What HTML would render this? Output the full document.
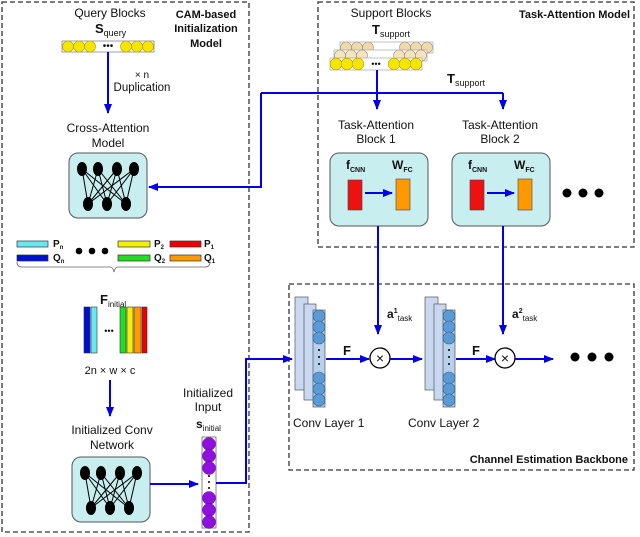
<!DOCTYPE html>
<html><head><meta charset="utf-8"><style>
html,body{margin:0;padding:0;background:#fff;width:640px;height:537px;overflow:hidden}
svg{display:block}
text{font-family:"Liberation Sans",sans-serif;fill:#111}
</style></head><body>
<svg width="640" height="537" viewBox="0 0 640 537" xmlns="http://www.w3.org/2000/svg">
<defs>
<marker id="ah" markerWidth="10" markerHeight="8" refX="9" refY="4" orient="auto" markerUnits="userSpaceOnUse"><path d="M0,0 L10,4 L0,8 z" fill="#0000ee"/></marker>
<g id="nn">
<g stroke="#000" stroke-width="1">
<line x1="13" y1="16" x2="19" y2="51"/><line x1="13" y1="16" x2="38" y2="51"/><line x1="13" y1="16" x2="57" y2="51"/>
<line x1="29" y1="16" x2="19" y2="51"/><line x1="29" y1="16" x2="38" y2="51"/><line x1="29" y1="16" x2="57" y2="51"/>
<line x1="48" y1="16" x2="19" y2="51"/><line x1="48" y1="16" x2="38" y2="51"/><line x1="48" y1="16" x2="57" y2="51"/>
<line x1="65" y1="16" x2="19" y2="51"/><line x1="65" y1="16" x2="38" y2="51"/><line x1="65" y1="16" x2="57" y2="51"/>
</g>
<ellipse cx="13" cy="16" rx="5" ry="7"/><ellipse cx="29" cy="16" rx="5" ry="7"/><ellipse cx="48" cy="16" rx="5" ry="7"/><ellipse cx="65" cy="16" rx="5" ry="7"/>
<ellipse cx="19" cy="51" rx="5" ry="7"/><ellipse cx="38" cy="51" rx="5" ry="7"/><ellipse cx="57" cy="51" rx="5" ry="7"/>
</g>
</defs>
<g fill="none" stroke="#333" stroke-width="1.3" stroke-dasharray="5,3">
<rect x="2" y="2" width="247" height="530"/>
<rect x="318" y="2" width="316" height="245"/>
<rect x="289" y="284" width="345" height="186"/>
</g>

<!-- Left column -->
<text x="110" y="17" font-size="12" text-anchor="middle">Query Blocks</text>
<text x="95" y="33" font-size="13" font-weight="bold">S<tspan font-size="9" dy="3" font-weight="normal">query</tspan></text>
<text x="206" y="18" font-size="11" font-weight="bold" text-anchor="middle">CAM-based</text>
<text x="206" y="32" font-size="11" font-weight="bold" text-anchor="middle">Initialization</text>
<text x="206" y="47" font-size="11" font-weight="bold" text-anchor="middle">Model</text>
<rect x="62" y="41" width="92" height="11" fill="#fff" stroke="#888" stroke-width="0.8"/>
<g fill="#f5e600" stroke="#b8a000" stroke-width="0.6">
<circle cx="68" cy="46.5" r="5.5"/><circle cx="79" cy="46.5" r="5.5"/><circle cx="90" cy="46.5" r="5.5"/>
<circle cx="126" cy="46.5" r="5.5"/><circle cx="137" cy="46.5" r="5.5"/><circle cx="148" cy="46.5" r="5.5"/></g>
<text x="108" y="49" font-size="10" text-anchor="middle">•••</text>
<line x1="108" y1="52" x2="108" y2="113" stroke="#0000ee" stroke-width="2" marker-end="url(#ah)"/>
<text x="142" y="78" font-size="10" text-anchor="middle">× n</text>
<text x="142" y="91" font-size="11.5" text-anchor="middle">Duplication</text>
<text x="108" y="132" font-size="12" text-anchor="middle">Cross-Attention</text>
<text x="108" y="147" font-size="12" text-anchor="middle">Model</text>
<rect x="69" y="153" width="78" height="65" rx="9" fill="#c8eef0" stroke="#555"/>
<use href="#nn" x="69" y="153"/>
<polyline points="261,93 261,187 149,187" fill="none" stroke="#0000ee" stroke-width="2" marker-end="url(#ah)"/>
<line x1="261" y1="93" x2="503" y2="93" stroke="#0000ee" stroke-width="2"/>

<g stroke="#333" stroke-width="0.7">
<rect x="17" y="241" width="31" height="6" fill="#66e8f0"/>
<rect x="17" y="255" width="31" height="6" fill="#0010d0"/>
<rect x="118" y="241" width="32" height="6" fill="#f5f000"/>
<rect x="170" y="241" width="31" height="6" fill="#ee0000"/>
<rect x="118" y="255" width="32" height="6" fill="#22dd22"/>
<rect x="170" y="255" width="31" height="6" fill="#ff9900"/>
</g>
<text x="53" y="247" font-size="10" font-weight="bold">P<tspan font-size="6" dy="2">n</tspan></text>
<text x="53" y="261" font-size="10" font-weight="bold">Q<tspan font-size="6" dy="2">n</tspan></text>
<text x="154" y="247" font-size="10" font-weight="bold">P<tspan font-size="6" dy="2">2</tspan></text>
<text x="154" y="261" font-size="10" font-weight="bold">Q<tspan font-size="6" dy="2">2</tspan></text>
<text x="204" y="247" font-size="10" font-weight="bold">P<tspan font-size="6" dy="2">1</tspan></text>
<text x="204" y="261" font-size="10" font-weight="bold">Q<tspan font-size="6" dy="2">1</tspan></text>
<circle cx="79" cy="251" r="3.3"/><circle cx="92" cy="251" r="3.3"/><circle cx="105" cy="251" r="3.3"/>
<path d="M17,262 Q17,267 22,267 L110,267 Q113,267 114,272 Q115,267 118,267 L205,267 Q210,267 210,262" fill="none" stroke="#666" stroke-width="0.8"/>

<text x="100" y="304" font-size="13" font-weight="bold">F<tspan font-size="8" dy="3" font-weight="normal">initial</tspan></text>
<g stroke="#333" stroke-width="0.6">
<rect x="84" y="307" width="6" height="46" fill="#0010d0"/>
<rect x="91" y="307" width="6" height="46" fill="#66e8f0"/>
<rect x="120" y="307" width="6" height="46" fill="#22dd22"/>
<rect x="127" y="307" width="6" height="46" fill="#f5f000"/>
<rect x="134" y="307" width="7" height="46" fill="#ff9900"/>
<rect x="142" y="307" width="5" height="46" fill="#ee0000"/>
</g>
<text x="109" y="334" font-size="9" text-anchor="middle">•••</text>
<text x="110" y="374" font-size="11" text-anchor="middle">2n × w × c</text>
<line x1="110" y1="380" x2="110" y2="416" stroke="#0000ee" stroke-width="2" marker-end="url(#ah)"/>
<text x="112" y="434" font-size="12" text-anchor="middle">Initialized Conv</text>
<text x="112" y="449" font-size="12" text-anchor="middle">Network</text>
<rect x="72" y="457" width="78" height="65" rx="9" fill="#c8eef0" stroke="#555"/>
<use href="#nn" x="72" y="457"/>
<line x1="150" y1="484" x2="198" y2="484" stroke="#0000ee" stroke-width="2" marker-end="url(#ah)"/>
<text x="208" y="397" font-size="12" text-anchor="middle">Initialized</text>
<text x="208" y="411" font-size="12" text-anchor="middle">Input</text>
<text x="196" y="428" font-size="12" font-weight="bold">s<tspan font-size="8" dy="3" font-weight="normal">initial</tspan></text>
<rect x="202" y="437" width="14" height="91" fill="#fff" stroke="#555" stroke-width="0.7"/>
<g fill="#9010e0" stroke="#6000a0" stroke-width="0.5">
<circle cx="209" cy="444" r="6.5"/><circle cx="209" cy="456" r="6.5"/><circle cx="209" cy="468" r="6.5"/>
<circle cx="209" cy="498" r="6.5"/><circle cx="209" cy="510" r="6.5"/><circle cx="209" cy="522" r="6.5"/></g>
<circle cx="209" cy="476" r="1"/><circle cx="209" cy="482" r="1"/><circle cx="209" cy="488" r="1"/>
<polyline points="216,483 246,483 246,359 292,359" fill="none" stroke="#0000ee" stroke-width="2" marker-end="url(#ah)"/>

<!-- Task attention -->
<text x="391" y="17" font-size="12" text-anchor="middle">Support Blocks</text>
<text x="372" y="34" font-size="13" font-weight="bold">T<tspan font-size="9" dy="3" font-weight="normal">support</tspan></text>
<text x="630" y="18" font-size="11" font-weight="bold" text-anchor="end">Task-Attention Model</text>
<g stroke="#999" stroke-width="0.6">
<rect x="340" y="42" width="93" height="11" fill="#fff"/>
<g fill="#f2d9a8"><circle cx="346" cy="47.5" r="5.5"/><circle cx="357" cy="47.5" r="5.5"/><circle cx="368" cy="47.5" r="5.5"/><circle cx="405" cy="47.5" r="5.5"/><circle cx="416" cy="47.5" r="5.5"/><circle cx="427" cy="47.5" r="5.5"/></g>
<rect x="334" y="50" width="93" height="11" fill="#fff"/>
<g fill="#f7e3bc"><circle cx="340" cy="55.5" r="5.5"/><circle cx="351" cy="55.5" r="5.5"/><circle cx="362" cy="55.5" r="5.5"/><circle cx="399" cy="55.5" r="5.5"/><circle cx="410" cy="55.5" r="5.5"/><circle cx="421" cy="55.5" r="5.5"/></g>
<rect x="330" y="58" width="92" height="12" fill="#fff"/>
<g fill="#f5e600" stroke="#b8a000"><circle cx="336" cy="64" r="5.8"/><circle cx="347" cy="64" r="5.8"/><circle cx="358" cy="64" r="5.8"/><circle cx="394" cy="64" r="5.8"/><circle cx="405" cy="64" r="5.8"/><circle cx="416" cy="64" r="5.8"/></g>
</g>
<text x="376" y="67" font-size="9" text-anchor="middle">•••</text>
<line x1="377" y1="70" x2="377" y2="109" stroke="#0000ee" stroke-width="2" marker-end="url(#ah)"/>
<line x1="503" y1="93" x2="503" y2="109" stroke="#0000ee" stroke-width="2" marker-end="url(#ah)"/>
<text x="447" y="83" font-size="13" font-weight="bold">T<tspan font-size="9" dy="3" font-weight="normal">support</tspan></text>
<text x="376" y="129" font-size="12" text-anchor="middle">Task-Attention</text>
<text x="376" y="143" font-size="12" text-anchor="middle">Block 1</text>
<text x="500" y="129" font-size="12" text-anchor="middle">Task-Attention</text>
<text x="500" y="143" font-size="12" text-anchor="middle">Block 2</text>
<g>
<rect x="330" y="153" width="98" height="73" rx="9" fill="#c8eef0" stroke="#555"/>
<text x="346" y="169" font-size="12" font-weight="bold">f<tspan font-size="7" dy="3">CNN</tspan></text>
<text x="392" y="169" font-size="12" font-weight="bold">W<tspan font-size="7" dy="3">FC</tspan></text>
<rect x="348" y="180" width="14" height="30" fill="#ee1111" stroke="#444" stroke-width="0.6"/>
<rect x="396" y="179" width="14" height="31" fill="#ff9900" stroke="#444" stroke-width="0.6"/>
<line x1="365" y1="193" x2="392" y2="193" stroke="#0000ee" stroke-width="2" marker-end="url(#ah)"/>
</g>
<g transform="translate(122,0)">
<rect x="330" y="153" width="98" height="73" rx="9" fill="#c8eef0" stroke="#555"/>
<text x="346" y="169" font-size="12" font-weight="bold">f<tspan font-size="7" dy="3">CNN</tspan></text>
<text x="392" y="169" font-size="12" font-weight="bold">W<tspan font-size="7" dy="3">FC</tspan></text>
<rect x="348" y="180" width="14" height="30" fill="#ee1111" stroke="#444" stroke-width="0.6"/>
<rect x="396" y="179" width="14" height="31" fill="#ff9900" stroke="#444" stroke-width="0.6"/>
<line x1="365" y1="193" x2="392" y2="193" stroke="#0000ee" stroke-width="2" marker-end="url(#ah)"/>
</g>
<circle cx="567" cy="193" r="4.5"/><circle cx="583" cy="193" r="4.5"/><circle cx="599" cy="193" r="4.5"/>

<!-- Backbone -->
<line x1="378" y1="226" x2="378" y2="334" stroke="#0000ee" stroke-width="2" marker-end="url(#ah)"/>
<line x1="503" y1="226" x2="503" y2="334" stroke="#0000ee" stroke-width="2" marker-end="url(#ah)"/>
<text x="387" y="318" font-size="12" font-weight="bold">a<tspan font-size="7" dy="-5">1</tspan><tspan font-size="8" dy="8" font-weight="normal">task</tspan></text>
<text x="512" y="318" font-size="12" font-weight="bold">a<tspan font-size="7" dy="-5">2</tspan><tspan font-size="8" dy="8" font-weight="normal">task</tspan></text>
<g id="conv">
<rect x="295" y="297" width="13" height="93" fill="#c8d8f0" stroke="#555" stroke-width="0.7"/>
<rect x="304" y="304" width="12" height="96" fill="#c8d8f0" stroke="#555" stroke-width="0.7"/>
<rect x="313" y="310" width="12" height="97" fill="#b8d0ec" stroke="#555" stroke-width="0.7"/>
<g fill="#5b9bd5" stroke="#2f5f90" stroke-width="0.6">
<circle cx="319" cy="316" r="6"/><circle cx="319" cy="327" r="6"/><circle cx="319" cy="338" r="6"/>
<circle cx="319" cy="378" r="6"/><circle cx="319" cy="389" r="6"/><circle cx="319" cy="400" r="6"/></g>
<circle cx="319" cy="350" r="1"/><circle cx="319" cy="357" r="1"/><circle cx="319" cy="364" r="1"/>
</g>
<use href="#conv" x="130" y="0"/>
<line x1="326" y1="359" x2="369" y2="359" stroke="#0000ee" stroke-width="2" marker-end="url(#ah)"/>
<text x="343" y="355" font-size="13" font-weight="bold">F</text>
<circle cx="380" cy="358" r="10" fill="#fff" stroke="#000" stroke-width="1.3"/>
<text x="380" y="363" font-size="14" text-anchor="middle">×</text>
<line x1="390" y1="359" x2="422" y2="359" stroke="#0000ee" stroke-width="2" marker-end="url(#ah)"/>
<line x1="456" y1="359" x2="495" y2="359" stroke="#0000ee" stroke-width="2" marker-end="url(#ah)"/>
<text x="472" y="355" font-size="13" font-weight="bold">F</text>
<circle cx="505" cy="358" r="10" fill="#fff" stroke="#000" stroke-width="1.3"/>
<text x="505" y="363" font-size="14" text-anchor="middle">×</text>
<line x1="515" y1="359" x2="553" y2="359" stroke="#0000ee" stroke-width="2" marker-end="url(#ah)"/>
<circle cx="575" cy="357" r="4.5"/><circle cx="592" cy="357" r="4.5"/><circle cx="609" cy="357" r="4.5"/>
<text x="293" y="427" font-size="12">Conv Layer 1</text>
<text x="408" y="427" font-size="12">Conv Layer 2</text>
<text x="628" y="463" font-size="11" font-weight="bold" text-anchor="end">Channel Estimation Backbone</text>
</svg>
</body></html>
